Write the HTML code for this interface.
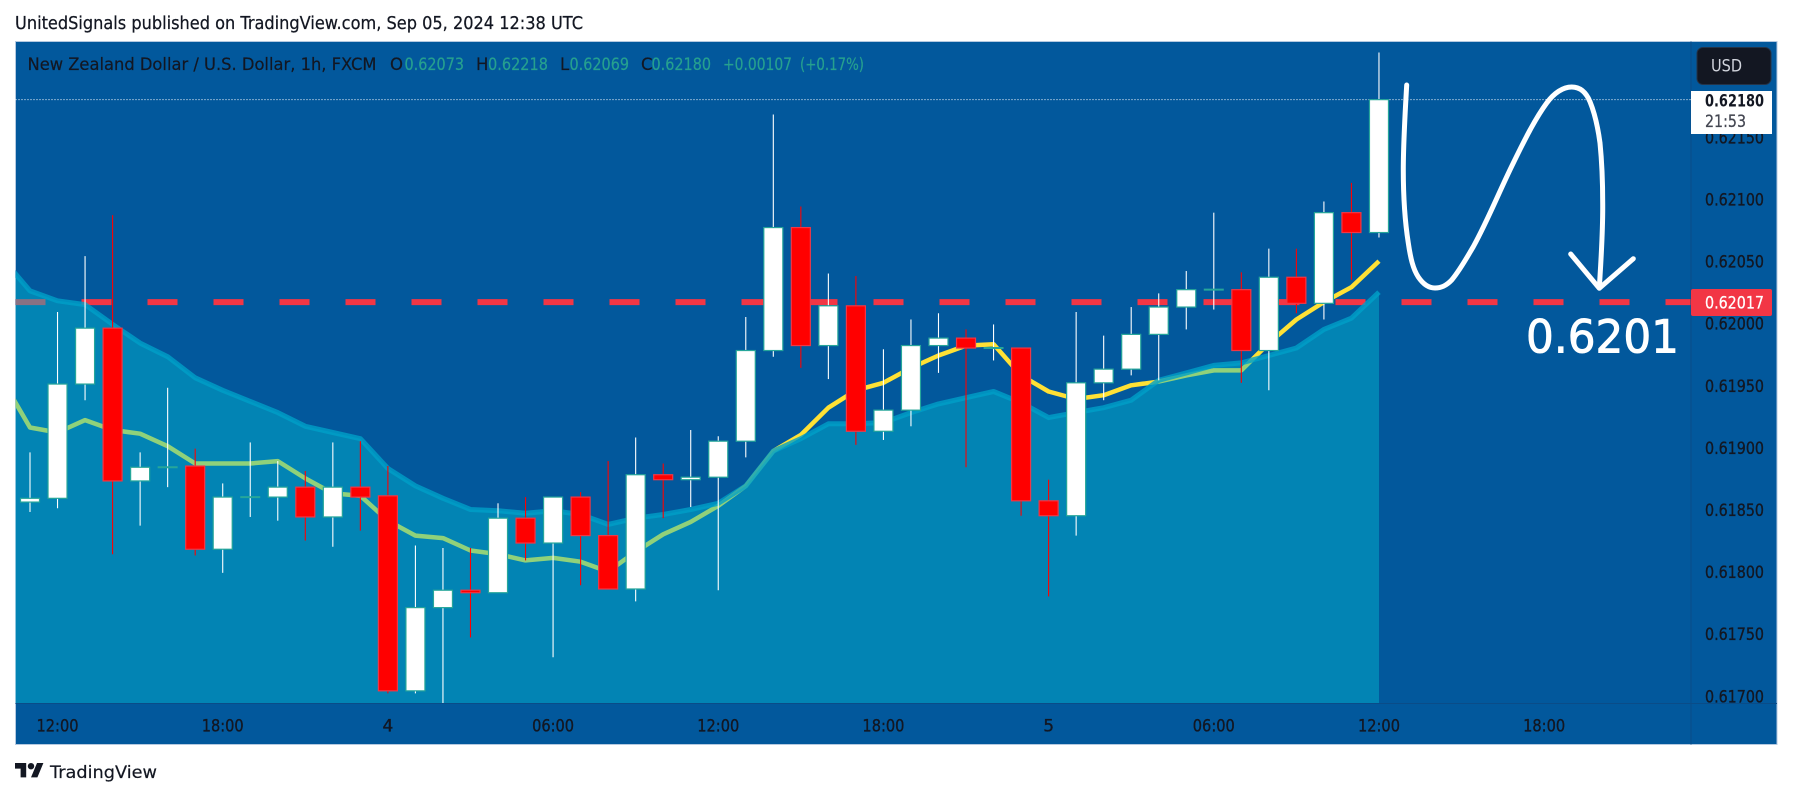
<!DOCTYPE html>
<html>
<head>
<meta charset="utf-8">
<title>NZD/USD 1h chart</title>
<style>
html,body{margin:0;padding:0;background:#fff;}
svg{display:block;}
text{font-family:"DejaVu Sans","Liberation Sans",sans-serif;}
</style>
</head>
<body>
<svg id="chart" xmlns="http://www.w3.org/2000/svg" width="1793" height="798" viewBox="0 0 1793 798">
  <rect x="0" y="0" width="1793" height="798" fill="#ffffff"/>
  <text x="15" y="29" font-size="17.5" fill="#131722" stroke="#131722" stroke-width="0.25" textLength="568" lengthAdjust="spacingAndGlyphs">UnitedSignals published on TradingView.com, Sep 05, 2024 12:38 UTC</text>
  <rect x="15.5" y="41.5" width="1761.5" height="703" fill="#02589c" stroke="#b5c9e0" stroke-width="1"/>
  <g id="plot-layers"></g>
  <path fill="none" stroke="#ffffff" stroke-width="5" stroke-linecap="round" stroke-linejoin="round"
    d="M1406.7 85 C1405 115 1403.3 142 1403.3 170 C1403.3 197 1405 222 1408.3 243 C1410.5 258 1413 269 1418.3 277 C1423 284 1429 288 1435 288 C1441 288 1446 286 1451.7 280 C1460 270 1466 259 1473.3 246.7 C1488 220 1499 192 1513.3 163 C1524 141 1535 119 1546.7 103 C1554 93 1563 87 1571.7 87 C1580 87 1586 92 1590 101.7 C1595 114 1598 128 1600 143 C1602 163 1602.7 183 1602.7 203 C1603 232 1601 260 1599.3 288"/>
  <path fill="none" stroke="#ffffff" stroke-width="5" stroke-linecap="round" stroke-linejoin="round" d="M1570.7 254 L1599.3 288.3 L1633.3 258.7"/>
  <text x="1526" y="352.5" font-size="45" fill="#ffffff" stroke="#ffffff" stroke-width="0.9" textLength="153" lengthAdjust="spacingAndGlyphs">0.6201</text>
  <line x1="1691" y1="41.5" x2="1691" y2="744.5" stroke="#0a4c88" stroke-width="1"/>
  <line x1="15.5" y1="703.5" x2="1777" y2="703.5" stroke="#0a4c88" stroke-width="1"/>
  <g id="axis-layers"></g>
  <rect x="1691" y="91" width="81" height="43" fill="#ffffff"/>
  <text x="1705" y="106.3" font-size="17" font-weight="700" fill="#131722" textLength="59" lengthAdjust="spacingAndGlyphs">0.62180</text>
  <text x="1705" y="127" font-size="17" fill="#434651" stroke="#434651" stroke-width="0.25" textLength="41" lengthAdjust="spacingAndGlyphs">21:53</text>
  <rect x="1691" y="289" width="81" height="27" rx="2" fill="#f23645"/>
  <text x="1705" y="308.7" font-size="17" fill="#ffffff" stroke="#ffffff" stroke-width="0.25" textLength="59" lengthAdjust="spacingAndGlyphs">0.62017</text>
  <rect x="1697" y="47.5" width="74" height="37" rx="6" fill="#131722" stroke="#243348" stroke-width="1"/>
  <text x="1711" y="71.5" font-size="17" fill="#d1d4dc" textLength="31" lengthAdjust="spacingAndGlyphs">USD</text>
  <g font-size="16.5" stroke-width="0.2">
    <text x="27.5" y="70" fill="#131722" stroke="#131722" textLength="349" lengthAdjust="spacingAndGlyphs">New Zealand Dollar / U.S. Dollar, 1h, FXCM</text>
    <text x="390" y="70" fill="#131722" stroke="#131722">O</text>
    <text x="404.5" y="70" fill="#26a08f" stroke="#26a08f" textLength="59.5" lengthAdjust="spacingAndGlyphs">0.62073</text>
    <text x="476" y="70" fill="#131722" stroke="#131722">H</text>
    <text x="488" y="70" fill="#26a08f" stroke="#26a08f" textLength="60" lengthAdjust="spacingAndGlyphs">0.62218</text>
    <text x="560" y="70" fill="#131722" stroke="#131722">L</text>
    <text x="569.5" y="70" fill="#26a08f" stroke="#26a08f" textLength="59.5" lengthAdjust="spacingAndGlyphs">0.62069</text>
    <text x="641" y="70" fill="#131722" stroke="#131722">C</text>
    <text x="651.5" y="70" fill="#26a08f" stroke="#26a08f" textLength="59.5" lengthAdjust="spacingAndGlyphs">0.62180</text>
    <text x="723" y="70" fill="#26a08f" stroke="#26a08f" textLength="69" lengthAdjust="spacingAndGlyphs">+0.00107</text>
    <text x="800" y="70" fill="#26a08f" stroke="#26a08f" textLength="64" lengthAdjust="spacingAndGlyphs">(+0.17%)</text>
  </g>
  <g transform="translate(15 759.8) scale(0.8)" fill="#131722">
    <path d="M14 22H7V11H0V4h14v18zM28 22h-8l7.5-18h8L28 22z"/>
    <circle cx="20" cy="8" r="4"/>
  </g>
  <text x="50" y="778" font-size="17" fill="#131722" stroke="#131722" stroke-width="0.2" textLength="107" lengthAdjust="spacingAndGlyphs">TradingView</text>
</svg>
<script>
var opens = [0.61856,0.61859,0.61951,0.61996,0.61873,0.61884,0.61885,0.61818,0.61860,0.61860,0.61868,0.61844,0.61868,0.61861,0.61704,0.61771,0.61785,0.61783,0.61843,0.61823,0.61860,0.61829,0.61786,0.61878,0.61874,0.61876,0.61905,0.61978,0.62077,0.61982,0.62014,0.61913,0.61930,0.61982,0.61988,0.61980,0.61980,0.61857,0.61845,0.61952,0.61963,0.61991,0.62013,0.62027,0.62027,0.61978,0.62037,0.62016,0.62089,0.62073];
var highs = [0.61896,0.62009,0.62054,0.62087,0.61896,0.61948,0.61899,0.61871,0.61904,0.61889,0.61881,0.61904,0.61905,0.61885,0.61821,0.61819,0.61819,0.61855,0.61860,0.61860,0.61864,0.61889,0.61908,0.61887,0.61914,0.61909,0.62005,0.62168,0.62094,0.62040,0.62038,0.61979,0.62003,0.62008,0.61995,0.61999,0.61980,0.61874,0.62009,0.61990,0.62013,0.62024,0.62042,0.62089,0.62041,0.62060,0.62060,0.62098,0.62113,0.62218];
var lows = [0.61848,0.61851,0.61938,0.61814,0.61837,0.61868,0.61813,0.61799,0.61844,0.61841,0.61825,0.61820,0.61833,0.61702,0.61702,0.61694,0.61747,0.61783,0.61809,0.61731,0.61789,0.61786,0.61776,0.61843,0.61852,0.61785,0.61892,0.61973,0.61964,0.61955,0.61902,0.61906,0.61917,0.61960,0.61884,0.61970,0.61845,0.61780,0.61829,0.61938,0.61958,0.61954,0.61995,0.62011,0.61952,0.61946,0.62008,0.62003,0.62035,0.62069];
var closes = [0.61859,0.61951,0.61996,0.61873,0.61884,0.61884,0.61818,0.61860,0.61860,0.61868,0.61844,0.61868,0.61860,0.61704,0.61771,0.61785,0.61783,0.61843,0.61823,0.61860,0.61829,0.61786,0.61878,0.61874,0.61876,0.61905,0.61978,0.62077,0.61982,0.62014,0.61913,0.61930,0.61982,0.61988,0.61980,0.61980,0.61857,0.61845,0.61952,0.61963,0.61991,0.62013,0.62027,0.62027,0.61978,0.62037,0.62016,0.62089,0.62073,0.62180];
// Indicator series begin one bar before the first visible candle.
var cloudUpper = [0.62052,0.62026,0.62018,0.62015,0.61999,0.61984,0.61973,0.61956,0.61946,0.61937,0.61928,0.61917,0.61912,0.61907,0.61883,0.61869,0.61859,0.61850,0.61849,0.61847,0.61849,0.61846,0.61838,0.61843,0.61846,0.61850,0.61855,0.61869,0.61897,0.61907,0.61919,0.61919,0.61920,0.61928,0.61935,0.61940,0.61945,0.61936,0.61924,0.61928,0.61932,0.61938,0.61954,0.61960,0.61966,0.61968,0.61974,0.61980,0.61995,0.62004,0.62025];
var movingAverage = [0.61954,0.61916,0.61912,0.61922,0.61914,0.61911,0.61901,0.61887,0.61887,0.61887,0.61889,0.61875,0.61863,0.61861,0.61841,0.61829,0.61827,0.61817,0.61814,0.61809,0.61811,0.61808,0.61800,0.61816,0.61830,0.61840,0.61853,0.61869,0.61897,0.61910,0.61932,0.61946,0.61952,0.61964,0.61974,0.61982,0.61983,0.61958,0.61945,0.61939,0.61942,0.61950,0.61953,0.61958,0.61962,0.61962,0.61984,0.62003,0.62017,0.62029,0.62050];
var priceTicks = [0.6215,0.621,0.6205,0.62,0.6195,0.619,0.6185,0.618,0.6175,0.617];
var timeTickLabels = ["12:00","18:00","4","06:00","12:00","18:00","5","06:00","12:00","18:00"];
var timeTickBars = [1,7,13,19,25,31,37,43,49,55];
var levelPrice = 0.62017;
var lastPrice = 0.62180;

var SVGNS = "http://www.w3.org/2000/svg";
var plot = document.getElementById("plot-layers");
var axes = document.getElementById("axis-layers");
var PLOT_LEFT = 15.5, PLOT_RIGHT = 1691, PLOT_BOTTOM = 703;

function yOf(price) { return 323.2 + (0.62 - price) * 124200; }
function xOf(bar) { return 30 + 27.53 * bar; }
function make(tag, parent, attrs) {
  var el = document.createElementNS(SVGNS, tag);
  for (var k in attrs) el.setAttribute(k, attrs[k]);
  parent.appendChild(el);
  return el;
}

var clip = make("clipPath", plot, {id: "plot-clip"});
make("rect", clip, {x: PLOT_LEFT, y: 41.5, width: PLOT_RIGHT - PLOT_LEFT, height: PLOT_BOTTOM - 41.5});
var inner = make("g", plot, {"clip-path": "url(#plot-clip)"});

// last price dotted line
var lastLine = make("line", inner, {x1: PLOT_LEFT, x2: PLOT_RIGHT, y1: yOf(lastPrice), y2: yOf(lastPrice), stroke: "#ffffff", "stroke-width": 1, "stroke-dasharray": "1 2"});



// dashed horizontal level
var level = make("line", inner, {x1: PLOT_LEFT, x2: PLOT_RIGHT, y1: yOf(levelPrice), y2: yOf(levelPrice), stroke: "#f23645", "stroke-width": 6, "stroke-dasharray": "30 36"});



// moving average (under the translucent area)
var maPts = movingAverage.map(function (v, i) { return xOf(i - 1).toFixed(1) + "," + yOf(v).toFixed(1); });
var ma = make("polyline", inner, {points: maPts.join(" "), fill: "none", stroke: "#ffe135", "stroke-width": 4.5, "stroke-linejoin": "round"});



// cloud area + edge
var upPts = cloudUpper.map(function (v, i) { return xOf(i - 1).toFixed(1) + "," + yOf(v).toFixed(1); });
var lastX = xOf(cloudUpper.length - 2).toFixed(1);
var firstX = xOf(-1).toFixed(1);
var area = make("polygon", inner, {points: upPts.join(" ") + " " + lastX + "," + PLOT_BOTTOM + " " + firstX + "," + PLOT_BOTTOM, fill: "rgba(2,188,212,0.44)"});


var edge = make("polyline", inner, {points: upPts.join(" "), fill: "none", stroke: "rgba(0,160,200,0.8)", "stroke-width": 5, "stroke-linejoin": "round"});



// candles
opens.forEach(function (open, i) {
  var close = closes[i], x = xOf(i), up = close >= open;
  var g = make("g", inner, {});
  
  
  var wick = make("line", g, {x1: x, x2: x, y1: yOf(highs[i]), y2: yOf(lows[i]), stroke: up ? "#ffffff" : "#ff0000", "stroke-width": 1.1});
  
  
  if (open === close) {
    var dash = make("line", g, {x1: x - 10, x2: x + 10, y1: yOf(open), y2: yOf(open), stroke: "#26a69a", "stroke-width": 2});
    
    
  } else {
    var top = yOf(Math.max(open, close)), bottom = yOf(Math.min(open, close));
    var body = make("rect", g, {x: x - 9.5, y: top, width: 19, height: bottom - top, fill: up ? "#ffffff" : "#ff0000", stroke: up ? "#26a69a" : "#f23645", "stroke-width": 1.2});
    
    
  }
});

// price axis ticks
priceTicks.forEach(function (p) {
  var t = make("text", axes, {x: 1705, y: yOf(p) + 6.5, "font-size": 17, fill: "#131722", stroke: "#131722", "stroke-width": 0.35, textLength: 59, lengthAdjust: "spacingAndGlyphs"});
  t.textContent = p.toFixed(5);
  
  
});

// time axis ticks
timeTickLabels.forEach(function (label, i) {
  var t = make("text", axes, {x: xOf(timeTickBars[i]), y: 731.5, "font-size": 17, fill: "#131722", stroke: "#131722", "stroke-width": 0.35, "text-anchor": "middle"});
  t.textContent = label;
  
  
  if (label.length > 1) {
    t.setAttribute('textLength', '42');
    t.setAttribute('lengthAdjust', 'spacingAndGlyphs');
  }
});
</script>
</body>
</html>
